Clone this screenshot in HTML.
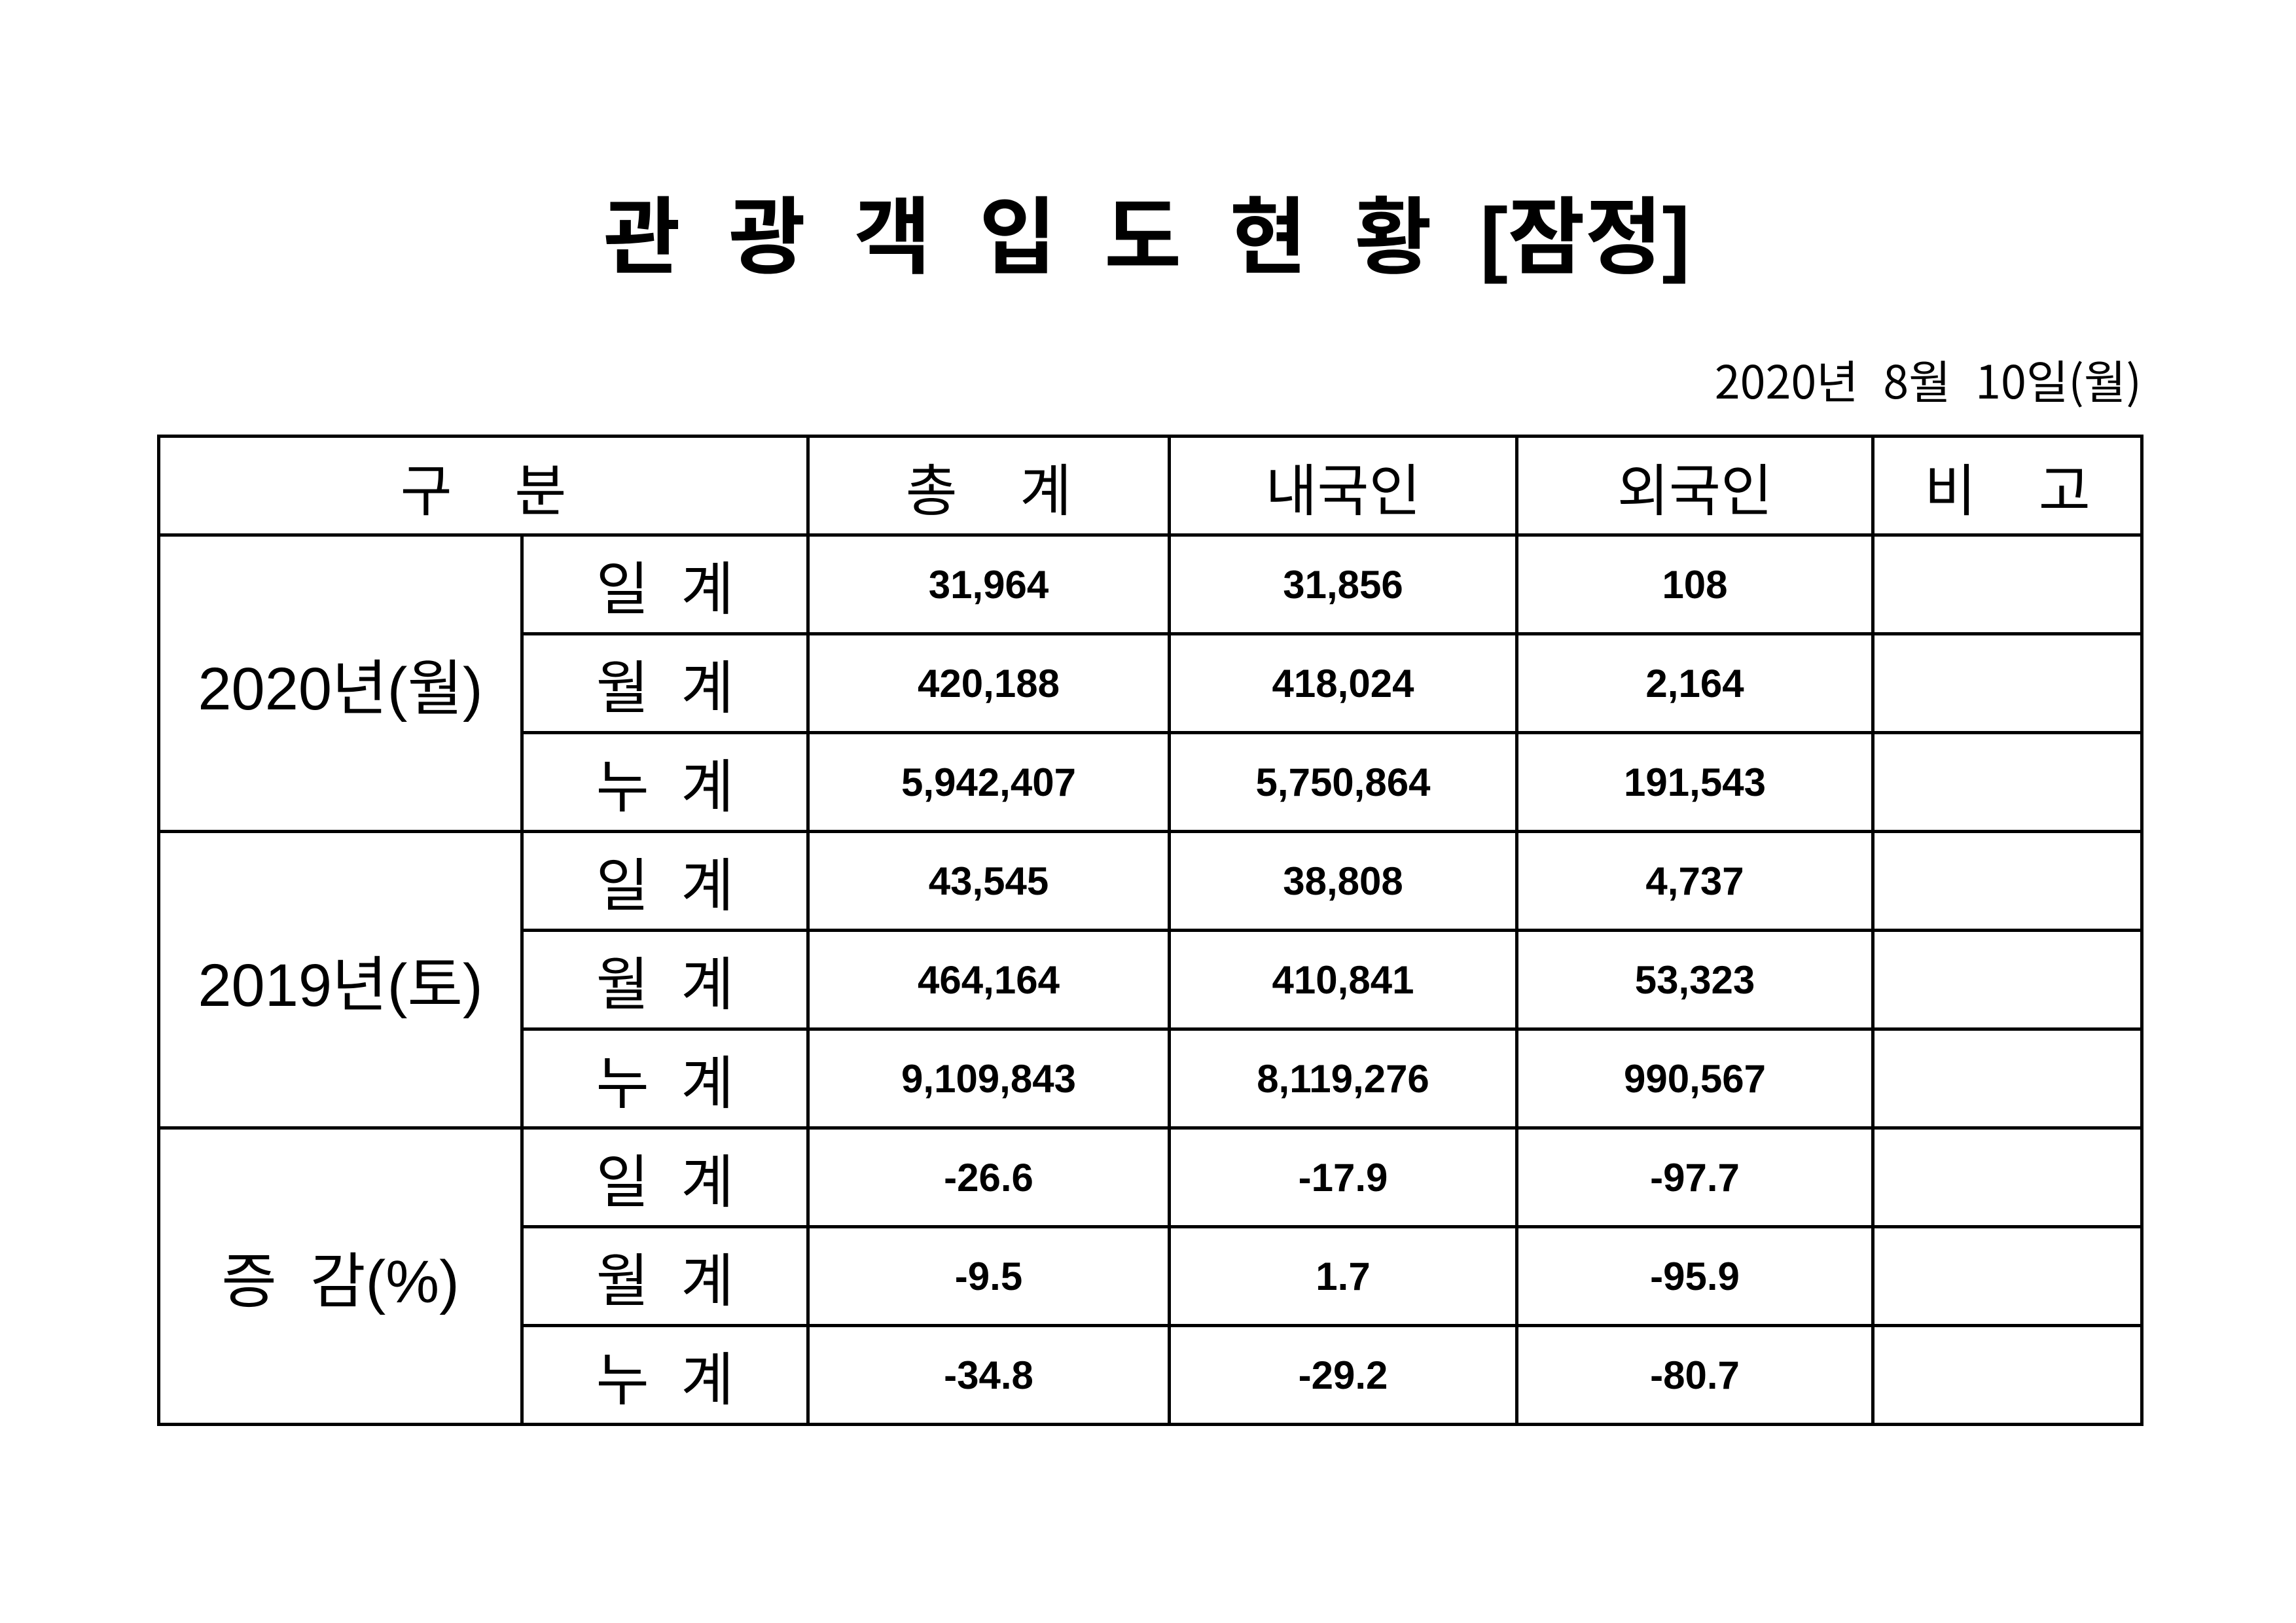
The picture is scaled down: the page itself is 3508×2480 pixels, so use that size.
<!DOCTYPE html>
<html><head><meta charset="utf-8"><style>
html,body{margin:0;padding:0;background:#fff;}
body{width:3508px;height:2480px;position:relative;overflow:hidden;font-family:"Liberation Sans","Noto Sans CJK KR","NanumGothic",sans-serif;color:#000;}
.title{position:absolute;left:0;width:3508px;top:284px;text-align:center;font-size:128px;font-weight:bold;line-height:160px;word-spacing:38px;padding-right:4px;box-sizing:border-box;}
.date{position:absolute;right:236px;top:538px;font-size:70px;line-height:84px;word-spacing:22px;font-family:"Noto Sans CJK KR","Liberation Sans",sans-serif;}
table{position:absolute;left:240px;top:664px;border-collapse:collapse;table-layout:fixed;}
td{border:5px solid #000;text-align:center;vertical-align:middle;height:146px;padding:0;}
.h{font-size:86px;}
.l{font-size:92px;}
.k{font-size:88px;}
.n{font-size:60px;font-weight:bold;}
</style></head><body>
<div class="title">관 광 객 입 도 현 황 [잠정]</div>
<div class="date">2020년 8월 10일(월)</div>
<table>
<colgroup><col style="width:555px"><col style="width:437px"><col style="width:552px"><col style="width:531px"><col style="width:544px"><col style="width:411px"></colgroup>
<tr><td colspan="2" class="h">구&nbsp;&nbsp;&nbsp;&nbsp;분</td><td class="h">총&nbsp;&nbsp;&nbsp;&nbsp;계</td><td class="h">내국인</td><td class="h">외국인</td><td class="h">비&nbsp;&nbsp;&nbsp;&nbsp;고</td></tr>
<tr><td rowspan="3" class="l">2020년(월)</td><td class="k">일&nbsp;&nbsp;계</td><td class="n">31,964</td><td class="n">31,856</td><td class="n">108</td><td></td></tr>
<tr><td class="k">월&nbsp;&nbsp;계</td><td class="n">420,188</td><td class="n">418,024</td><td class="n">2,164</td><td></td></tr>
<tr><td class="k">누&nbsp;&nbsp;계</td><td class="n">5,942,407</td><td class="n">5,750,864</td><td class="n">191,543</td><td></td></tr>
<tr><td rowspan="3" class="l">2019년(토)</td><td class="k">일&nbsp;&nbsp;계</td><td class="n">43,545</td><td class="n">38,808</td><td class="n">4,737</td><td></td></tr>
<tr><td class="k">월&nbsp;&nbsp;계</td><td class="n">464,164</td><td class="n">410,841</td><td class="n">53,323</td><td></td></tr>
<tr><td class="k">누&nbsp;&nbsp;계</td><td class="n">9,109,843</td><td class="n">8,119,276</td><td class="n">990,567</td><td></td></tr>
<tr><td rowspan="3" class="l">증&nbsp;&nbsp;감(%)</td><td class="k">일&nbsp;&nbsp;계</td><td class="n">-26.6</td><td class="n">-17.9</td><td class="n">-97.7</td><td></td></tr>
<tr><td class="k">월&nbsp;&nbsp;계</td><td class="n">-9.5</td><td class="n">1.7</td><td class="n">-95.9</td><td></td></tr>
<tr><td class="k">누&nbsp;&nbsp;계</td><td class="n">-34.8</td><td class="n">-29.2</td><td class="n">-80.7</td><td></td></tr>
</table>
</body></html>
